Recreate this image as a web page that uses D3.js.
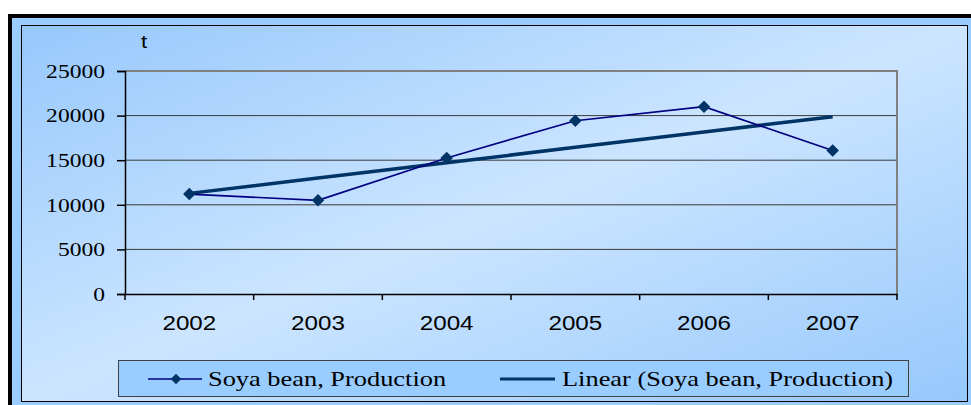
<!DOCTYPE html>
<html>
<head>
<meta charset="utf-8">
<script src="https://cdn.jsdelivr.net/npm/d3@7"></script>
<style>
  body { margin: 0; background: #fff; }
  svg { display: block; }
</style>
</head>
<body>
<div id="chart"></div>
<script>
const years = ['2002', '2003', '2004', '2005', '2006', '2007'];
const production = [11200, 10500, 15250, 19430, 21000, 16100];
const yTicks = [0, 5000, 10000, 15000, 20000, 25000];
const seriesName = 'Soya bean, Production';
const trendName = 'Linear (Soya bean, Production)';

const W = 971, H = 405;
const stretch = 1.24; // the original text is a bit wider than normal

const svg = d3.select('#chart').append('svg')
    .attr('width', W)
    .attr('height', H);

const defs = svg.append('defs');
const grad = defs.append('linearGradient')
    .attr('id', 'bg')
    .attr('x1', '0%').attr('y1', '0%')
    .attr('x2', '100%').attr('y2', '100%');
grad.append('stop').attr('offset', '0%').attr('stop-color', '#96c8fc');
grad.append('stop').attr('offset', '50%').attr('stop-color', '#cce5ff');
grad.append('stop').attr('offset', '100%').attr('stop-color', '#96c8fc');

// outer frame
svg.append('rect')
    .attr('x', 8).attr('y', 14)
    .attr('width', W - 8).attr('height', H - 14)
    .attr('fill', '#000');
svg.append('rect')
    .attr('x', 12).attr('y', 18)
    .attr('width', W - 12).attr('height', H - 18)
    .attr('fill', '#99ccff');
svg.append('rect')
    .attr('x', 21.5).attr('y', 25.5)
    .attr('width', 946).attr('height', 376)
    .attr('fill', 'url(#bg)')
    .attr('stroke', '#000')
    .attr('stroke-width', 1);

const plot = { left: 125, right: 897, top: 71, bottom: 294 };

const x = d3.scaleBand()
    .domain(years)
    .range([plot.left, plot.right]);

const y = d3.scaleLinear()
    .domain([0, 25000])
    .range([plot.bottom, plot.top]);

// gridlines
svg.append('g')
    .selectAll('line')
    .data(yTicks.filter(d => d > 0 && d < 25000))
    .join('line')
    .attr('x1', plot.left).attr('x2', plot.right)
    .attr('y1', d => y(d)).attr('y2', d => y(d))
    .attr('stroke', '#3a3a3a')
    .attr('stroke-width', 1);

// plot border (top + right, gray)
svg.append('path')
    .attr('d', `M${plot.left},${y(25000)}H${plot.right}V${plot.bottom}`)
    .attr('fill', 'none')
    .attr('stroke', '#808080')
    .attr('stroke-width', 2);

// y axis
const yAxis = svg.append('g')
    .attr('transform', `translate(${plot.left},0)`)
    .call(d3.axisLeft(y).tickValues(yTicks).tickSize(8).tickFormat(d3.format('d')));
yAxis.select('.domain').attr('stroke', '#000').attr('stroke-width', 1.5);
yAxis.selectAll('.tick line').attr('stroke', '#000').attr('stroke-width', 1.5);
yAxis.selectAll('.tick text')
    .attr('x', null)
    .attr('dy', null)
    .attr('text-anchor', 'end')
    .attr('dominant-baseline', 'central')
    .attr('transform', `translate(-20,0) scale(${stretch},1)`)
    .style('font-family', '"Liberation Serif", "Times New Roman", serif')
    .style('font-size', '19px')
    .attr('fill', '#000');

// x axis
const xAxis = svg.append('g')
    .attr('transform', `translate(0,${plot.bottom})`)
    .call(d3.axisBottom(x).tickSize(0).tickSizeOuter(0));
xAxis.select('.domain').attr('stroke', '#000').attr('stroke-width', 1.5);
xAxis.selectAll('.tick text')
    .attr('y', null)
    .attr('dy', null)
    .attr('transform', `translate(0,36) scale(${stretch},1)`)
    .style('font-family', '"Liberation Sans", Arial, sans-serif')
    .style('font-size', '19.5px')
    .attr('fill', '#000');
// tick marks between categories
const boundaries = years.map(d => x(d)).concat([x.range()[1]]);
svg.append('g')
    .selectAll('line')
    .data(boundaries)
    .join('line')
    .attr('x1', d => d).attr('x2', d => d)
    .attr('y1', plot.bottom).attr('y2', plot.bottom + 6)
    .attr('stroke', '#000')
    .attr('stroke-width', 1.5);

// unit label
svg.append('text')
    .attr('transform', `translate(144,48) scale(${stretch},1)`)
    .attr('text-anchor', 'middle')
    .style('font-family', '"Liberation Sans", Arial, sans-serif')
    .style('font-size', '18px')
    .text('t');

const cx = d => x(d) + x.bandwidth() / 2;

// linear trend from least squares
const n = production.length;
const xs = d3.range(n);
const mx = d3.mean(xs), my = d3.mean(production);
const slope = d3.sum(xs, i => (i - mx) * (production[i] - my)) / d3.sum(xs, i => (i - mx) ** 2);
const icpt = my - slope * mx;
const trend = xs.map(i => icpt + slope * i);

svg.append('path')
    .datum(trend)
    .attr('fill', 'none')
    .attr('stroke', '#003366')
    .attr('stroke-width', 3.5)
    .attr('d', d3.line().x((d, i) => cx(years[i])).y(d => y(d)));

svg.append('path')
    .datum(production)
    .attr('fill', 'none')
    .attr('stroke', '#000080')
    .attr('stroke-width', 1.6)
    .attr('d', d3.line().x((d, i) => cx(years[i])).y(d => y(d)));

const diamond = d3.symbol().type(d3.symbolDiamond2).size(100);
svg.append('g')
    .selectAll('path')
    .data(production)
    .join('path')
    .attr('d', diamond)
    .attr('transform', (d, i) => `translate(${cx(years[i])},${y(d)})`)
    .attr('fill', '#003366');

// legend
const legFont = '"Liberation Serif", "Times New Roman", serif';
const legStretch = 1.2;
const leg = svg.append('g');
leg.append('rect')
    .attr('x', 118.5).attr('y', 360.5)
    .attr('width', 790).attr('height', 36)
    .attr('fill', '#99ccff')
    .attr('stroke', '#404040')
    .attr('stroke-width', 1);

leg.append('line')
    .attr('x1', 148).attr('x2', 202)
    .attr('y1', 379).attr('y2', 379)
    .attr('stroke', '#000080').attr('stroke-width', 1.6);
leg.append('path')
    .attr('d', d3.symbol().type(d3.symbolDiamond2).size(70))
    .attr('transform', 'translate(176,379)')
    .attr('fill', '#003366');
leg.append('text')
    .attr('transform', `translate(208,386) scale(${legStretch},1)`)
    .style('font-family', legFont)
    .style('font-size', '22px')
    .text(seriesName);

leg.append('line')
    .attr('x1', 500).attr('x2', 555)
    .attr('y1', 379).attr('y2', 379)
    .attr('stroke', '#003366').attr('stroke-width', 3);
leg.append('text')
    .attr('transform', `translate(562,386) scale(${legStretch},1)`)
    .style('font-family', legFont)
    .style('font-size', '22px')
    .text(trendName);
</script>
</body>
</html>
